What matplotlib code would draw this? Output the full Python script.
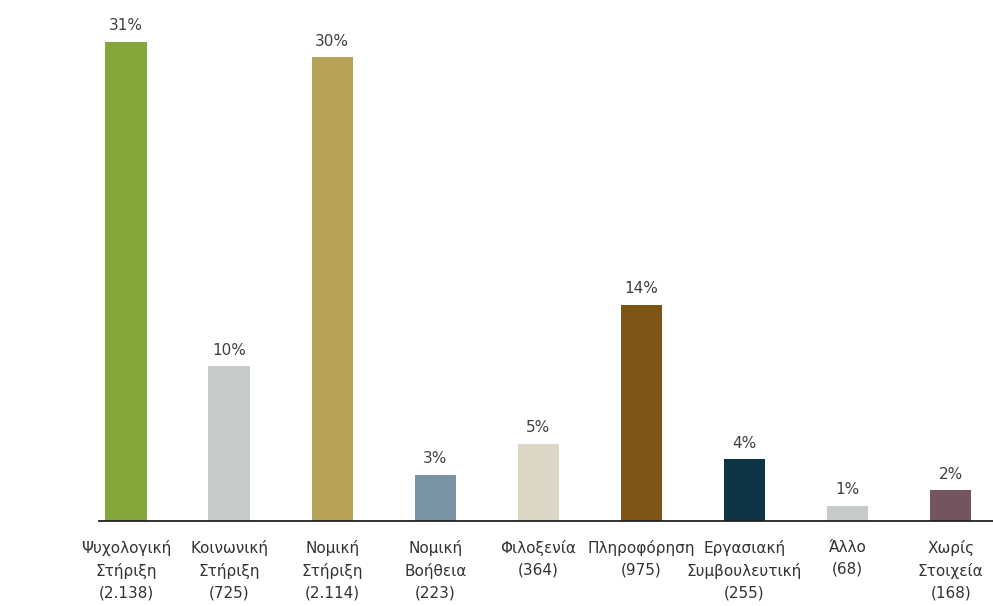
import matplotlib
matplotlib.use("Agg")
import matplotlib.pyplot as plt
import numpy as np

categories = ["Ψυχολογική\nΣτήριξη\n(2.138)", "Κοινωνική\nΣτήριξη\n(725)",
              "Νομική\nΣτήριξη\n(2.114)", "Νομική\nΒοήθεια\n(223)",
              "Φιλοξενία\n(364)\n", "Πληροφόρηση\n(975)\n",
              "Εργασιακή\nΣυμβουλευτική\n(255)", "Άλλο\n(68)\n",
              "Χωρίς\nΣτοιχεία\n(168)"]
percent = [31, 10, 30, 3, 5, 14, 4, 1, 2]
colors = ["#84A63A", "#C7CBC8", "#B5A255", "#7A94A5", "#DBD7C4",
          "#7F5516", "#0D3545", "#C7CBC8", "#755461"]

plt.rcParams['font.family'] = ['DejaVu Sans']
fig = plt.figure(figsize=(9.93, 6.06), dpi=100)
ax = fig.add_axes([99/993, 85/606, 894/993, 521/606])

x = np.arange(len(categories))
bars = ax.bar(x, percent, width=0.4, color=colors, zorder=2)
for xi, p in zip(x, percent):
    ax.annotate(f"{p}%", (xi, p), xytext=(0, 6), textcoords="offset points",
                ha="center", va="bottom", fontsize=11, color="#404040")

ax.set_xlim(-0.262, 8.41)
ax.set_ylim(0, 33.7)
ax.set_xticks(x)
ax.set_xticklabels(categories, fontsize=11, color="#333333", linespacing=1.52)
ax.tick_params(axis="x", length=0, pad=14)
ax.set_yticks([])
for s in ["top", "right", "left"]:
    ax.spines[s].set_visible(False)
ax.spines["bottom"].set_color("#222222")
ax.spines["bottom"].set_linewidth(1.3)

fig.savefig("out.png", dpi=100)
